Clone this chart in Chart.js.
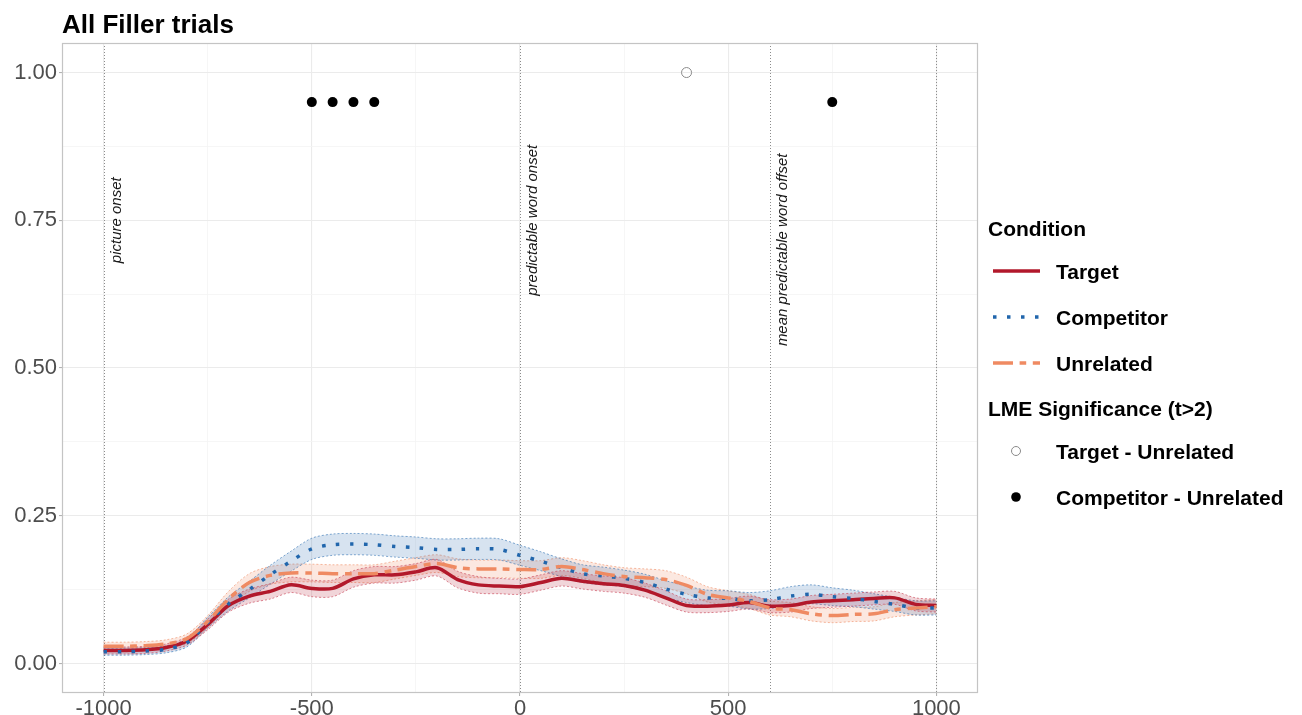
<!DOCTYPE html>
<html>
<head>
<meta charset="utf-8">
<script src="https://cdn.jsdelivr.net/npm/chart.js@4.4.1/dist/chart.umd.min.js"></script>
<style>
  body { margin: 0; background: #fff; }
  #wrap { position: relative; width: 1302px; height: 715px; }
  .lg { position: absolute; font-family: 'Liberation Sans', Arial, sans-serif; font-weight: bold;
        font-size: 21px; line-height: 21px; color: #000; white-space: nowrap; }
  svg.key { position: absolute; overflow: visible; }
</style>
</head>
<body>
<div id="wrap">
  <canvas id="chart" width="1302" height="715"></canvas>
  <div id="legend"></div>
</div>
<script>
// tiempo (ms) respecto al inicio de la palabra predecible
const tiempos = [-1000, -950, -900, -850, -800, -750, -700, -650, -600, -550, -500, -450, -400, -350,
  -300, -250, -200, -150, -100, -50, 0, 50, 100, 150, 200, 250, 300, 350, 400, 450, 500, 550, 600,
  650, 700, 750, 800, 850, 900, 950, 1000];

// proporciones de fijaciones por condición
const target = [0.022, 0.022, 0.023, 0.027, 0.038, 0.066, 0.098, 0.114, 0.122, 0.133, 0.127, 0.127,
  0.143, 0.150, 0.150, 0.155, 0.162, 0.142, 0.133, 0.131, 0.130, 0.137, 0.144, 0.139, 0.135, 0.132,
  0.124, 0.111, 0.098, 0.097, 0.099, 0.103, 0.097, 0.098, 0.104, 0.106, 0.108, 0.110, 0.111, 0.100, 0.098];
const competitor = [0.020, 0.020, 0.021, 0.024, 0.035, 0.069, 0.101, 0.125, 0.150, 0.173, 0.194, 0.201,
  0.202, 0.201, 0.198, 0.196, 0.193, 0.193, 0.194, 0.193, 0.183, 0.173, 0.162, 0.152, 0.148, 0.144,
  0.137, 0.126, 0.117, 0.111, 0.110, 0.106, 0.108, 0.114, 0.117, 0.113, 0.110, 0.105, 0.100, 0.094, 0.094];
const unrelated = [0.029, 0.029, 0.030, 0.033, 0.042, 0.071, 0.109, 0.137, 0.149, 0.153, 0.153, 0.152,
  0.152, 0.152, 0.158, 0.164, 0.169, 0.162, 0.160, 0.160, 0.159, 0.159, 0.164, 0.159, 0.152, 0.147,
  0.145, 0.142, 0.132, 0.117, 0.111, 0.105, 0.094, 0.091, 0.084, 0.081, 0.083, 0.084, 0.091, 0.094, 0.096];

// semiancho de las bandas de error
const seTarget = [0.006, 0.006, 0.006, 0.006, 0.007, 0.009, 0.011, 0.012, 0.013, 0.013, 0.014, 0.014,
  0.014, 0.014, 0.014, 0.014, 0.014, 0.014, 0.014, 0.013, 0.013, 0.013, 0.013, 0.013, 0.013, 0.013,
  0.012, 0.012, 0.011, 0.011, 0.011, 0.011, 0.011, 0.011, 0.011, 0.011, 0.011, 0.011, 0.011, 0.011, 0.011];
const seCompetitor = [0.006, 0.006, 0.006, 0.006, 0.007, 0.009, 0.012, 0.014, 0.016, 0.017, 0.018, 0.018,
  0.018, 0.018, 0.018, 0.018, 0.018, 0.018, 0.018, 0.018, 0.017, 0.016, 0.015, 0.015, 0.015, 0.014,
  0.014, 0.014, 0.014, 0.013, 0.013, 0.014, 0.015, 0.016, 0.016, 0.015, 0.014, 0.013, 0.012, 0.012, 0.012];
const seUnrelated = [0.007, 0.007, 0.007, 0.007, 0.008, 0.010, 0.013, 0.015, 0.015, 0.015, 0.015, 0.015,
  0.015, 0.015, 0.015, 0.015, 0.015, 0.015, 0.015, 0.015, 0.015, 0.015, 0.015, 0.015, 0.015, 0.015,
  0.015, 0.015, 0.014, 0.013, 0.012, 0.012, 0.012, 0.012, 0.012, 0.012, 0.012, 0.012, 0.012, 0.012, 0.012];

// significancia LME (t>2)
const sigTargetX = [400];
const sigTargetY = [1.00];
const sigCompetitorX = [-500, -450, -400, -350, 750];
const sigCompetitorY = [0.95, 0.95, 0.95, 0.95, 0.95];

// líneas verticales y sus rótulos
const lineasV = [-1000, 0, 600, 1000];
const rotulos = ['picture onset', 'predictable word onset', 'mean predictable word offset'];
const rotulosX = [-1000, 0, 600];
const rotulosY = [0.75, 0.75, 0.70];

// ejes
const ticksX = [-1000, -750, -500, -250, 0, 250, 500, 750, 1000];
const ticksY = [0, 0.125, 0.25, 0.375, 0.5, 0.625, 0.75, 0.875, 1.0];

const FONT = "'Liberation Sans', Arial, sans-serif";

function puntos(ys, off, sign) {
  return tiempos.map((t, i) => ({ x: t, y: ys[i] + (off ? sign * off[i] : 0) }));
}

const series = [
  { nombre: 'Target', datos: target, se: seTarget, color: '#b2182b', banda: 'rgba(178,24,43,0.18)', borde: 'rgba(200,60,80,0.75)', dash: [], orden: 3 },
  { nombre: 'Competitor', datos: competitor, se: seCompetitor, color: '#2166ac', banda: 'rgba(33,102,172,0.18)', borde: 'rgba(33,102,172,0.7)', dash: [3.5, 10.5], orden: 2 },
  { nombre: 'Unrelated', datos: unrelated, se: seUnrelated, color: '#ef8a62', banda: 'rgba(239,138,98,0.2)', borde: 'rgba(239,138,98,0.75)', dash: [20, 6.6, 6.6, 6.6], orden: 1 }
];

const datasets = [];
// bandas
series.forEach(s => {
  datasets.push({
    label: s.nombre + ' upper', data: puntos(s.datos, s.se, 1), fill: '+1',
    backgroundColor: s.banda, borderColor: s.borde, borderWidth: 0.8, borderDash: [2, 2],
    pointRadius: 0, tension: 0.3, order: 10
  });
  datasets.push({
    label: s.nombre + ' lower', data: puntos(s.datos, s.se, -1), fill: false,
    borderColor: s.borde, borderWidth: 0.8, borderDash: [2, 2],
    pointRadius: 0, tension: 0.3, order: 10
  });
});
// líneas
series.forEach(s => {
  datasets.push({
    label: s.nombre, data: puntos(s.datos), fill: false,
    borderColor: s.color, borderWidth: 3.5, borderDash: s.dash, borderCapStyle: 'butt',
    pointRadius: 0, tension: 0.3, order: s.orden
  });
});
// puntos de significancia
datasets.push({
  label: 'Target - Unrelated', data: sigTargetX.map((x, i) => ({ x: x, y: sigTargetY[i] })),
  showLine: false, pointRadius: 5, pointBackgroundColor: 'rgba(0,0,0,0)', pointBorderColor: '#8a8a8a',
  pointBorderWidth: 1, order: 0
});
datasets.push({
  label: 'Competitor - Unrelated', data: sigCompetitorX.map((x, i) => ({ x: x, y: sigCompetitorY[i] })),
  showLine: false, pointRadius: 5, pointBackgroundColor: '#000', pointBorderColor: '#000',
  pointBorderWidth: 0, order: 0
});

const esMayorX = v => v % 500 === 0;
const esMayorY = v => Math.abs(v * 4 - Math.round(v * 4)) < 1e-6;

// líneas verticales, rótulos y marco del panel
const extras = {
  id: 'extras',
  beforeDatasetsDraw(chart) {
    const { ctx, chartArea: a, scales: { x, y } } = chart;
    ctx.save();
    ctx.strokeStyle = '#8c8c8c';
    ctx.lineWidth = 1;
    ctx.setLineDash([1, 2]);
    lineasV.forEach(v => {
      const px = Math.round(x.getPixelForValue(v)) + 0.5;
      ctx.beginPath();
      ctx.moveTo(px, a.top);
      ctx.lineTo(px, a.bottom);
      ctx.stroke();
    });
    ctx.setLineDash([]);
    ctx.fillStyle = '#1a1a1a';
    ctx.font = 'italic 15px ' + FONT;
    ctx.textAlign = 'center';
    ctx.textBaseline = 'middle';
    rotulos.forEach((r, i) => {
      ctx.save();
      ctx.translate(x.getPixelForValue(rotulosX[i]) + 13, y.getPixelForValue(rotulosY[i]));
      ctx.rotate(-Math.PI / 2);
      ctx.fillText(r, 0, 0);
      ctx.restore();
    });
    ctx.restore();
  },
  afterDraw(chart) {
    const { ctx, chartArea: a } = chart;
    ctx.save();
    ctx.strokeStyle = '#c4c4c4';
    ctx.lineWidth = 1.2;
    ctx.strokeRect(a.left + 0.5, a.top + 0.5, a.right - a.left - 1, a.bottom - a.top - 1);
    ctx.restore();
  }
};

new Chart(document.getElementById('chart'), {
  type: 'line',
  data: { datasets: datasets },
  plugins: [extras],
  options: {
    responsive: false,
    animation: false,
    layout: { padding: { left: 0, right: 324, top: 0, bottom: 0 } },
    plugins: {
      legend: { display: false },
      tooltip: { enabled: false },
      title: {
        display: true, text: 'All Filler trials', align: 'start', fullSize: false,
        color: '#000', font: { family: FONT, size: 26, weight: 'bold', lineHeight: 1.2 },
        padding: { top: 10, bottom: 1.8 }
      }
    },
    scales: {
      x: {
        type: 'linear', min: -1100, max: 1100,
        afterBuildTicks: s => { s.ticks = ticksX.map(v => ({ value: v })); },
        afterFit: s => { s.height = 22; },
        ticks: {
          autoSkip: false, maxRotation: 0, padding: 0, color: '#4d4d4d',
          font: { family: FONT, size: 22 },
          callback: v => esMayorX(v) ? String(v) : ''
        },
        grid: {
          color: c => esMayorX(c.tick.value) ? '#ebebeb' : '#f4f4f4',
          lineWidth: c => esMayorX(c.tick.value) ? 1.1 : 0.8,
          tickLength: 3,
          tickColor: c => esMayorX(c.tick.value) ? '#b3b3b3' : 'rgba(0,0,0,0)'
        },
        border: { display: false }
      },
      y: {
        type: 'linear', min: -0.05, max: 1.05,
        afterBuildTicks: s => { s.ticks = ticksY.map(v => ({ value: v })); },
        afterFit: s => { s.width = 62; },
        ticks: {
          autoSkip: false, padding: 2, color: '#4d4d4d',
          font: { family: FONT, size: 22 },
          callback: v => esMayorY(v) ? v.toFixed(2) : ''
        },
        grid: {
          color: c => esMayorY(c.tick.value) ? '#ebebeb' : '#f4f4f4',
          lineWidth: c => esMayorY(c.tick.value) ? 1.1 : 0.8,
          tickLength: 3,
          tickColor: c => esMayorY(c.tick.value) ? '#b3b3b3' : 'rgba(0,0,0,0)'
        },
        border: { display: false }
      }
    }
  }
});

// leyenda
const leyenda = document.getElementById('legend');
function texto(t, x, yc) {
  const d = document.createElement('div');
  d.className = 'lg';
  d.textContent = t;
  d.style.left = x + 'px';
  d.style.top = (yc - 10.5) + 'px';
  leyenda.appendChild(d);
}
function clave(svg, yc) {
  const s = document.createElementNS('http://www.w3.org/2000/svg', 'svg');
  s.setAttribute('class', 'key');
  s.setAttribute('width', '50');
  s.setAttribute('height', '20');
  s.style.left = '991px';
  s.style.top = (yc - 10) + 'px';
  s.innerHTML = svg;
  leyenda.appendChild(s);
}
const filasCond = [271, 317, 363];
texto('Condition', 988, 228);
series.forEach((s, i) => {
  clave('<line x1="2" y1="10" x2="49" y2="10" stroke="' + s.color + '" stroke-width="3.5"' +
    (s.dash.length ? ' stroke-dasharray="' + s.dash.join(' ') + '"' : '') + '/>', filasCond[i]);
  texto(s.nombre, 1056, filasCond[i]);
});
texto('LME Significance (t>2)', 988, 408);
clave('<circle cx="25" cy="10" r="4.5" fill="none" stroke="#8a8a8a" stroke-width="1"/>', 451);
texto('Target - Unrelated', 1056, 451);
clave('<circle cx="25" cy="10" r="4.8" fill="#000"/>', 497);
texto('Competitor - Unrelated', 1056, 497);
</script>
</body>
</html>
